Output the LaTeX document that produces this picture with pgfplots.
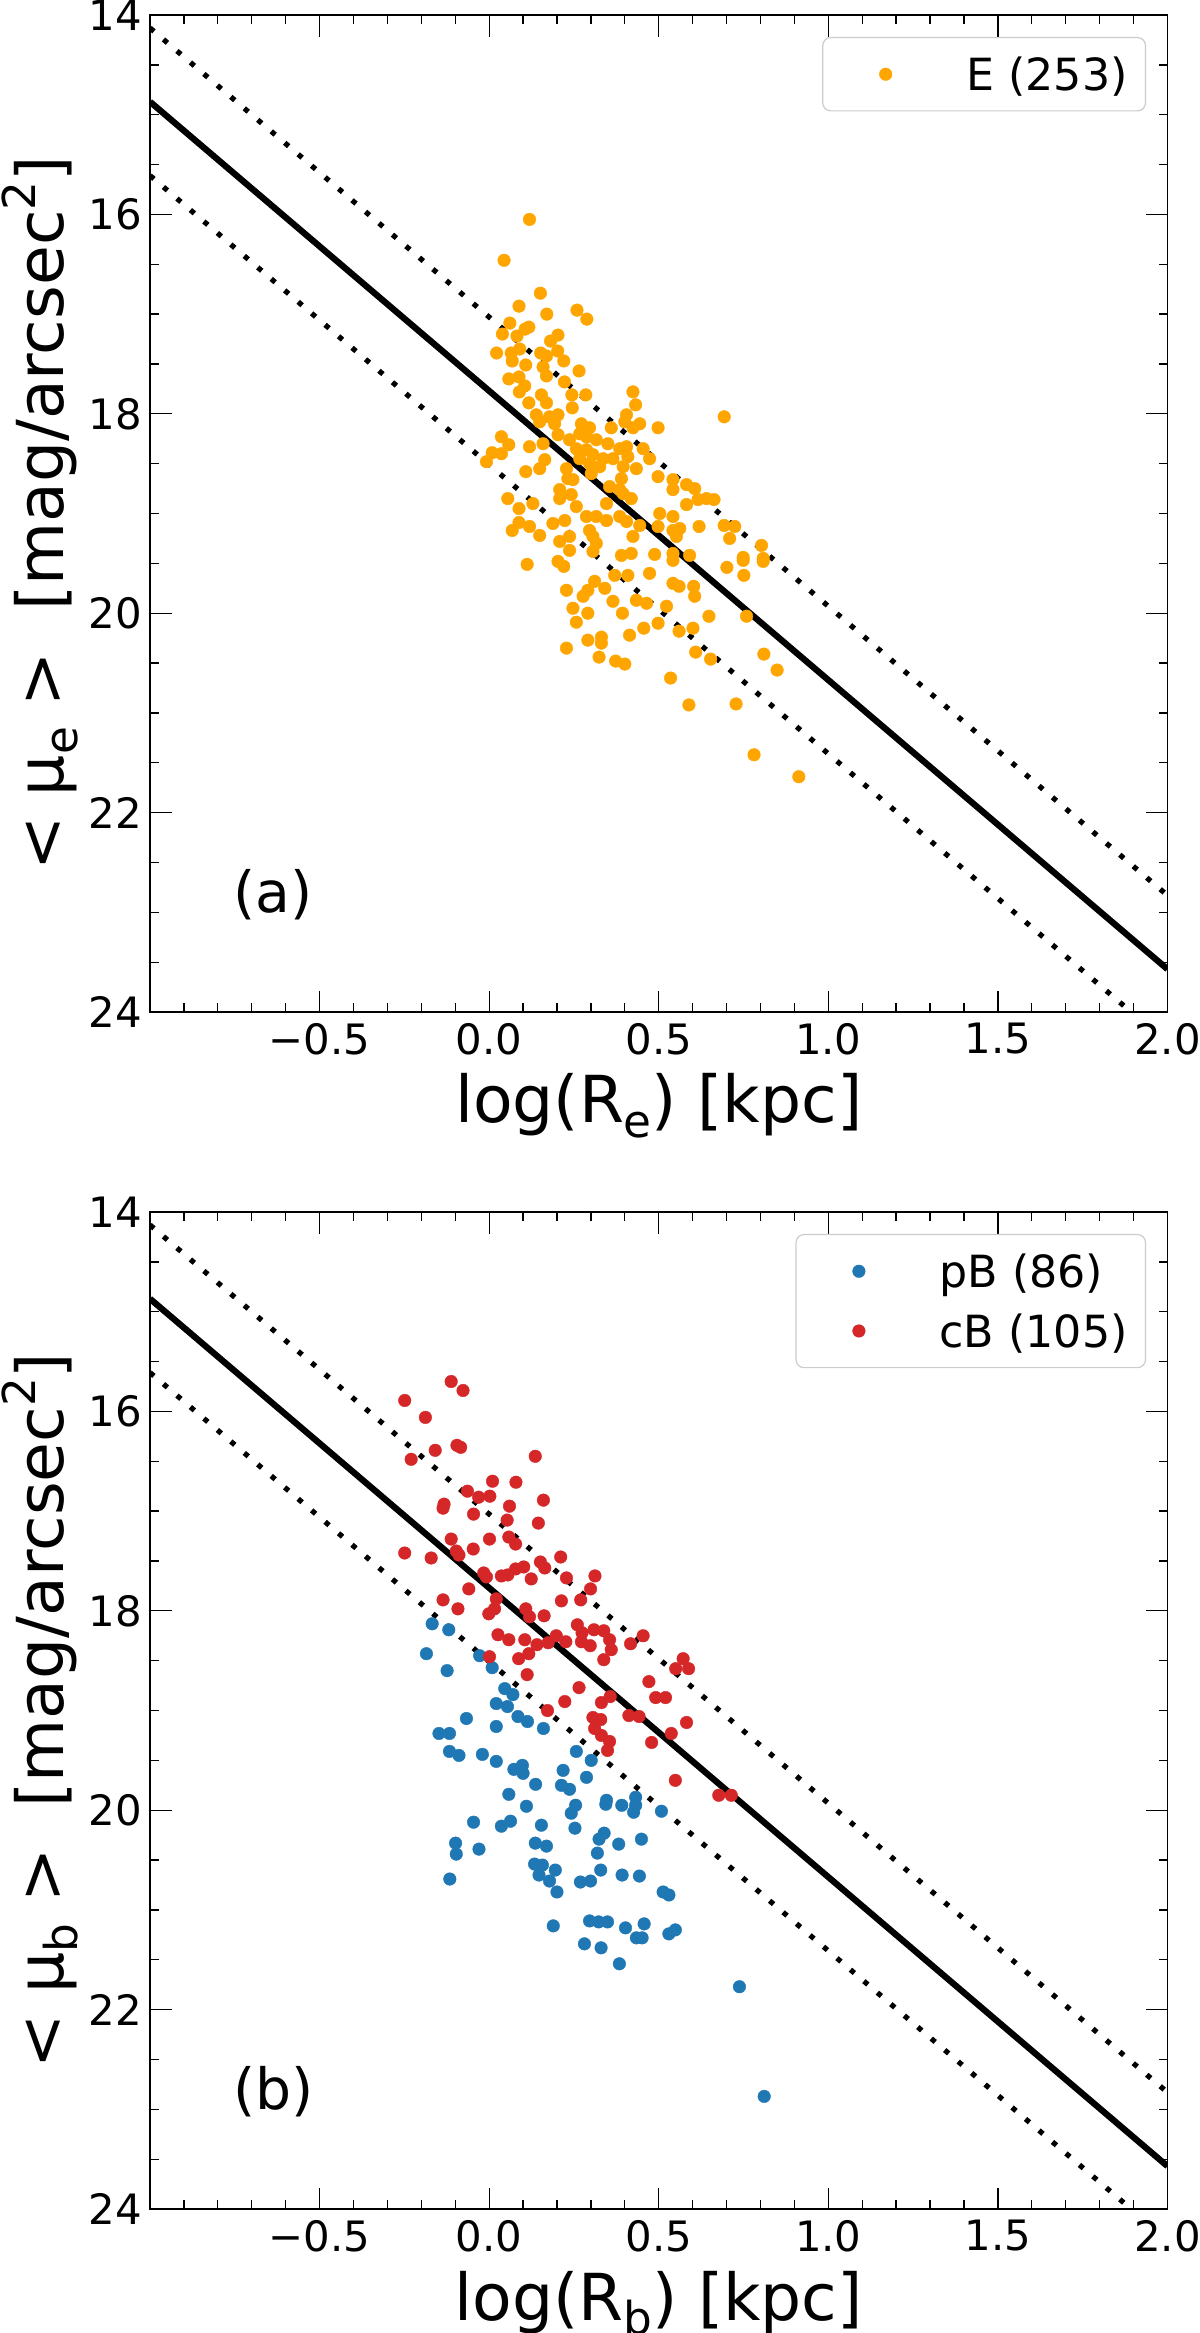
\documentclass[border=0pt]{standalone}
\usepackage{fontspec}
\setmainfont{DejaVu Sans}
\usepackage{pgfplots}
\pgfplotsset{compat=1.18}
\definecolor{morange}{HTML}{FFA500}
\definecolor{tabblue}{HTML}{1F77B4}
\definecolor{tabred}{HTML}{D62728}
\newcommand{\sub}[1]{\raisebox{-0.22em}{\fontsize{45.5}{46}\selectfont #1}}
\newcommand{\sups}[1]{\raisebox{0.42em}{\fontsize{45.5}{46}\selectfont #1}}

\pgfplotstableread{
x y
0.119 16.05
0.044 16.46
0.151 16.79
0.088 16.92
0.170 17.00
0.259 16.96
0.288 17.05
0.061 17.09
0.039 17.20
0.082 17.22
0.106 17.15
0.117 17.13
0.203 17.21
0.181 17.27
0.022 17.39
0.065 17.39
0.090 17.35
0.152 17.39
0.169 17.42
0.202 17.37
0.068 17.47
0.108 17.51
0.220 17.47
0.159 17.53
0.265 17.57
0.169 17.62
0.058 17.65
0.088 17.63
0.105 17.72
0.089 17.78
0.222 17.68
0.154 17.81
0.244 17.81
0.285 17.81
0.424 17.78
0.117 17.89
0.169 17.89
0.245 17.94
0.432 17.91
0.405 18.01
0.139 18.01
0.178 18.03
0.203 18.01
0.149 18.08
0.193 18.10
0.272 18.10
0.296 18.14
0.444 18.10
0.498 18.14
0.360 18.14
0.400 18.08
0.424 18.14
0.036 18.23
0.058 18.31
0.009 18.39
0.036 18.40
0.119 18.33
0.159 18.30
0.203 18.21
0.237 18.26
0.267 18.20
0.287 18.23
0.316 18.26
0.350 18.30
0.385 18.35
0.405 18.33
0.454 18.35
0.473 18.45
0.257 18.35
0.287 18.36
0.306 18.41
0.336 18.45
0.365 18.45
0.409 18.43
0.267 18.45
0.296 18.50
0.326 18.53
0.395 18.53
0.434 18.55
-0.008 18.48
0.108 18.58
0.149 18.55
0.164 18.46
0.228 18.55
0.232 18.65
0.247 18.66
0.301 18.60
0.390 18.65
0.498 18.63
0.542 18.66
0.542 18.76
0.208 18.76
0.242 18.81
0.208 18.85
0.355 18.73
0.385 18.76
0.419 18.85
0.395 18.80
0.055 18.85
0.129 18.90
0.257 18.93
0.346 18.90
0.088 18.95
0.088 19.09
0.068 19.17
0.119 19.13
0.149 19.22
0.223 19.07
0.188 19.10
0.287 19.03
0.316 19.03
0.346 19.07
0.385 19.03
0.405 19.08
0.444 19.12
0.498 19.13
0.503 19.00
0.542 19.03
0.542 19.17
0.296 19.17
0.306 19.23
0.316 19.30
0.237 19.23
0.208 19.28
0.237 19.37
0.306 19.38
0.424 19.23
0.390 19.42
0.419 19.40
0.488 19.41
0.542 19.40
0.112 19.51
0.203 19.48
0.220 19.53
0.370 19.62
0.409 19.62
0.473 19.60
0.542 19.70
0.228 19.77
0.291 19.77
0.311 19.68
0.341 19.75
0.277 19.83
0.365 19.88
0.434 19.87
0.464 19.90
0.523 19.93
0.247 19.95
0.291 20.00
0.393 20.00
0.257 20.09
0.456 20.15
0.498 20.10
0.414 20.22
0.291 20.27
0.331 20.24
0.331 20.30
0.228 20.35
0.542 19.47
0.701 19.54
0.749 19.47
0.808 19.48
0.751 19.62
0.560 19.73
0.603 19.73
0.606 19.83
0.648 20.03
0.759 20.03
0.560 20.18
0.601 20.15
0.324 20.44
0.373 20.48
0.400 20.51
0.609 20.39
0.653 20.46
0.810 20.41
0.849 20.57
0.535 20.65
0.589 20.92
0.728 20.91
0.781 21.42
0.913 21.64
0.693 18.03
0.582 18.71
0.606 18.75
0.582 18.91
0.616 18.86
0.641 18.85
0.663 18.86
0.562 19.15
0.552 19.23
0.619 19.13
0.693 19.12
0.724 19.13
0.709 19.25
0.803 19.32
0.591 19.42
0.749 19.44
0.808 19.45
}\tableE

\pgfplotstableread{
x y
-0.168 18.13
-0.119 18.19
-0.185 18.43
-0.028 18.45
0.009 18.57
-0.124 18.60
0.046 18.78
0.070 18.84
0.021 18.93
0.054 18.96
-0.067 19.08
0.085 19.06
0.113 19.11
0.021 19.16
0.160 19.18
-0.148 19.23
-0.117 19.23
-0.117 19.41
-0.089 19.45
-0.020 19.44
0.021 19.51
0.073 19.59
0.098 19.55
0.100 19.63
0.137 19.74
0.257 19.41
0.301 19.50
0.218 19.60
0.287 19.67
0.213 19.75
0.237 19.79
0.058 19.84
0.346 19.90
0.432 19.87
0.110 19.96
-0.046 20.12
0.036 20.16
0.063 20.11
0.154 20.15
0.255 19.95
0.242 20.03
0.253 20.18
0.344 19.94
0.391 19.95
0.432 19.95
0.426 20.02
0.508 20.01
-0.099 20.33
-0.097 20.44
-0.030 20.39
0.136 20.33
0.169 20.36
0.339 20.23
0.324 20.29
0.382 20.34
0.449 20.29
0.319 20.43
-0.116 20.69
0.134 20.54
0.157 20.55
0.147 20.65
0.195 20.60
0.178 20.71
0.200 20.82
0.269 20.72
0.299 20.71
0.329 20.60
0.392 20.65
0.443 20.66
0.513 20.82
0.530 20.85
0.189 21.16
0.296 21.11
0.323 21.12
0.349 21.12
0.402 21.18
0.457 21.14
0.434 21.28
0.451 21.28
0.530 21.24
0.549 21.20
0.281 21.34
0.330 21.38
0.384 21.54
0.738 21.77
0.811 22.87
}\tablepB

\pgfplotstableread{
x y
-0.112 15.70
-0.077 15.79
-0.249 15.89
-0.188 16.06
-0.095 16.34
-0.084 16.36
-0.159 16.39
-0.230 16.48
0.136 16.45
0.010 16.70
0.079 16.71
-0.064 16.80
-0.031 16.86
0.002 16.85
0.160 16.89
-0.133 16.93
-0.136 16.97
0.060 16.95
-0.046 17.03
0.053 17.09
0.145 17.12
0.058 17.26
0.078 17.33
-0.112 17.28
0.001 17.28
-0.249 17.42
-0.171 17.47
-0.097 17.40
-0.089 17.44
-0.047 17.38
0.211 17.46
0.151 17.51
0.164 17.57
-0.016 17.62
-0.008 17.66
0.036 17.65
0.055 17.64
0.078 17.58
0.102 17.56
0.124 17.68
0.228 17.67
0.312 17.65
0.299 17.78
-0.060 17.78
-0.136 17.89
-0.092 17.98
0.021 17.88
0.213 17.90
0.270 17.89
-0.001 18.03
0.016 17.98
0.108 17.98
0.119 18.06
0.162 18.05
0.260 18.14
0.274 18.22
0.309 18.19
0.338 18.20
0.355 18.29
0.360 18.39
0.338 18.49
0.298 18.35
0.272 18.31
0.417 18.33
0.454 18.25
0.026 18.24
0.058 18.29
0.105 18.29
0.141 18.34
0.174 18.32
0.198 18.25
0.226 18.31
0.001 18.46
0.087 18.48
0.117 18.43
0.112 18.64
0.265 18.77
0.223 18.91
0.172 19.00
0.331 18.92
0.357 18.86
0.306 19.07
0.329 19.09
0.311 19.18
0.331 19.25
0.355 19.31
0.349 19.40
0.412 19.05
0.442 19.06
0.471 18.71
0.491 18.87
0.520 18.87
0.550 18.58
0.572 18.48
0.588 18.58
0.582 19.12
0.537 19.23
0.479 19.32
0.549 19.70
0.677 19.85
0.714 19.85
}\tablecB

\pgfplotsset{
  kplot/.style={
    scale only axis, width=1017.5bp, height=997bp,
    xmin=-1, xmax=2, ymin=14, ymax=24, y dir=reverse,
    xtick={-0.5,0,0.5,1,1.5,2},
    xticklabels={−0.5,0.0,0.5,1.0,1.5,2.0},
    minor xtick={-0.9,-0.8,-0.7,-0.6,-0.4,-0.3,-0.2,-0.1,0.1,0.2,0.3,0.4,0.6,0.7,0.8,0.9,1.1,1.2,1.3,1.4,1.6,1.7,1.8,1.9},
    ytick={14,16,18,20,22,24},
    minor ytick={14.5,15,15.5,16.5,17,17.5,18.5,19,19.5,20.5,21,21.5,22.5,23,23.5},
    tick align=inside, tick pos=both,
    major tick length=21.5bp, minor tick length=8.7bp,
    tick style={black, line width=1.3bp},
    axis line style={line width=1.3bp},
    /pgf/number format/assume math mode=true,
    ticklabel style={font=\fontsize{42}{50}\selectfont},
    xticklabel style={inner sep=0pt, yshift=-11bp},
    yticklabel style={inner sep=0pt, xshift=-8bp},
    every axis x label/.style={at={(axis description cs:0.5,-0.1113)}, anchor=base, inner sep=0pt, font=\fontsize{65}{70}\selectfont},
    every axis y label/.style={at={(axis description cs:-0.0855,0.5)}, rotate=90, anchor=base, inner sep=0pt, font=\fontsize{65}{70}\selectfont},
    legend style={at={(axis description cs:0.979,0.978)}, anchor=north east,
      draw=black!20, line width=1.2bp, rounded corners=8bp, fill=white,
      inner xsep=17.8bp, inner ysep=19.2bp, row sep=24.8bp,
      font=\fontsize{44.5}{50}\selectfont,
      nodes={inner sep=0pt, text depth=0.13em},
      /tikz/every odd column/.append style={column sep=35.6bp}},
    legend cell align=left,
  },
  scat/.style={only marks, mark=*, mark size=6.3bp, color=#1,
    mark options={line width=0.4bp},
    legend image code/.code={\path (0bp,0bp) (89bp,0bp);
      \draw[mark repeat=2,mark phase=2,##1] plot coordinates {(0bp,0bp) (44.5bp,0bp) (89bp,0bp)};}},
  solidfit/.style={black, line width=6.3bp, forget plot},
  dotfit/.style={black, line width=5.2bp, line cap=butt, dash pattern=on 5.2bp off 12.5bp, forget plot},
}

\begin{document}
\begin{tikzpicture}
\useasboundingbox (0bp,0bp) rectangle (1200bp,-2333bp);
\begin{axis}[kplot, at={(150bp,-1012bp)}, anchor=south west,
  xlabel={log(R\sub{e}) [kpc]},
  ylabel={< μ\sub{e} >\ \ [mag/arcsec\sups{2}]}]
\addplot[scat=morange] table {\tableE};
\addlegendentry{E (253)}
\addplot[solidfit] coordinates {(-1,14.87) (2,23.57)};
\addplot[dotfit] coordinates {(-1,14.13) (2,22.83)};
\addplot[dotfit] coordinates {(-1,15.61) (2,24.31)};
\node[font=\fontsize{57}{60}\selectfont, anchor=base west, inner sep=0pt] at (axis description cs:0.0816,0.0997) {(a)};
\end{axis}
\begin{axis}[kplot, at={(150bp,-2209bp)}, anchor=south west,
  xlabel={log(R\sub{b}) [kpc]},
  ylabel={< μ\sub{b} >\ \ [mag/arcsec\sups{2}]}]
\addplot[scat=tabblue] table {\tablepB};
\addlegendentry{pB (86)}
\addplot[scat=tabred] table {\tablecB};
\addlegendentry{cB (105)}
\addplot[solidfit] coordinates {(-1,14.87) (2,23.57)};
\addplot[dotfit] coordinates {(-1,14.13) (2,22.83)};
\addplot[dotfit] coordinates {(-1,15.61) (2,24.31)};
\node[font=\fontsize{57}{60}\selectfont, anchor=base west, inner sep=0pt] at (axis description cs:0.0816,0.0997) {(b)};
\end{axis}
\end{tikzpicture}
\end{document}
